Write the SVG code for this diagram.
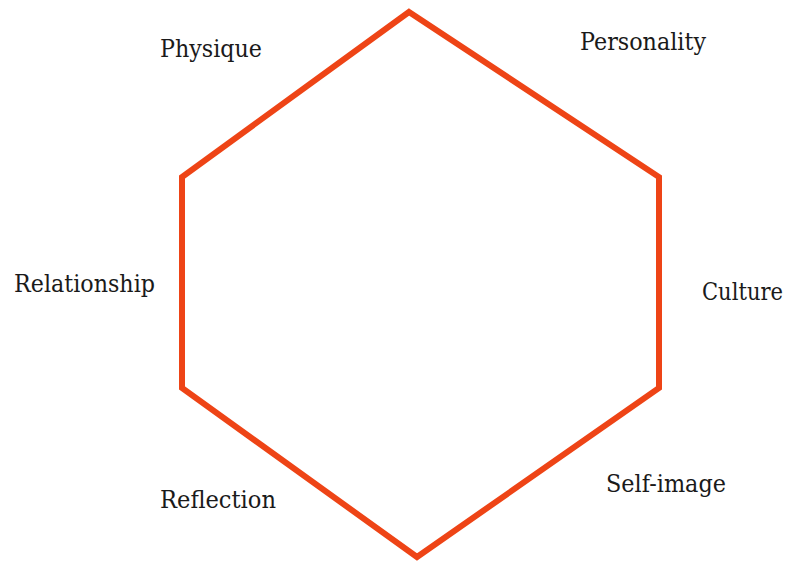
<svg xmlns="http://www.w3.org/2000/svg" width="789" height="561" viewBox="0 0 789 561">
<style>
text{font-family:'DejaVu Serif',serif;font-size:25px;fill:#1a1a1a}
.hex{fill:none;stroke:#EE4416;stroke-width:6;stroke-linejoin:miter}
</style>
<rect width="789" height="561" fill="#ffffff"/>
<g id="connectors">
<polygon class="hex" points="409,12 659,177 659,388 417,557 182,388 182,177"/>
</g>
<g id="physique"><text x="160" y="57" textLength="102" lengthAdjust="spacingAndGlyphs">Physique</text></g>
<g id="personality"><text x="580" y="50" textLength="126" lengthAdjust="spacingAndGlyphs">Personality</text></g>
<g id="relationship"><text x="14" y="292" textLength="141" lengthAdjust="spacingAndGlyphs">Relationship</text></g>
<g id="culture"><text x="702" y="300" textLength="81" lengthAdjust="spacingAndGlyphs">Culture</text></g>
<g id="reflection"><text x="160" y="508" textLength="116" lengthAdjust="spacingAndGlyphs">Reflection</text></g>
<g id="self-image"><text x="606" y="492" textLength="120" lengthAdjust="spacingAndGlyphs">Self-image</text></g>
</svg>
